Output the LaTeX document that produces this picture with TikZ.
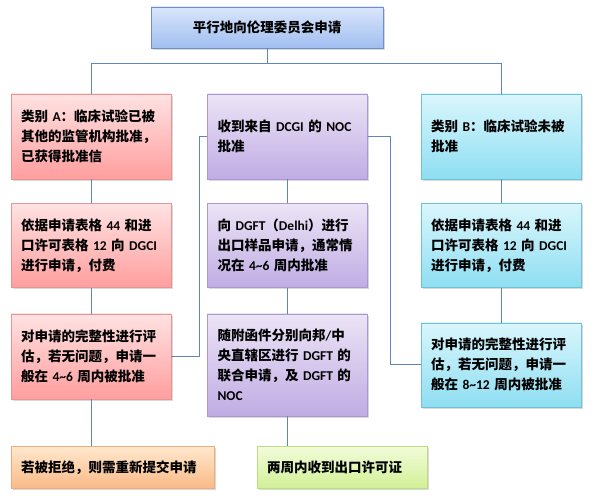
\documentclass[tikz,border=0pt]{standalone}
\usepackage{fontspec}
\setmainfont{Noto Sans CJK SC}
\newfontfamily\enfont{Carlito}
\usetikzlibrary{positioning, shadows}
\newcommand{\en}[1]{{\enfont #1}}
\definecolor{linkblue}{RGB}{95,135,185}
\definecolor{redtop}{RGB}{255,226,226}\definecolor{redbot}{RGB}{255,158,158}\definecolor{redline}{RGB}{226,150,150}
\definecolor{purtop}{RGB}{236,228,246}\definecolor{purbot}{RGB}{192,172,228}\definecolor{purline}{RGB}{172,152,208}
\definecolor{cyatop}{RGB}{218,246,252}\definecolor{cyabot}{RGB}{142,222,242}\definecolor{cyaline}{RGB}{112,192,216}
\definecolor{blutop}{RGB}{218,230,252}\definecolor{blubot}{RGB}{160,190,240}\definecolor{bluline}{RGB}{112,142,200}
\definecolor{orgtop}{RGB}{255,232,205}\definecolor{orgbot}{RGB}{250,186,136}\definecolor{orgline}{RGB}{238,172,122}
\definecolor{grntop}{RGB}{242,252,218}\definecolor{grnbot}{RGB}{210,240,150}\definecolor{grnline}{RGB}{190,220,130}
\tikzset{
box/.style={shape=rectangle, draw, text width=140pt, inner xsep=10pt, inner ysep=0pt, minimum height=85pt, align=left, font=\fontsize{13.5}{20}\selectfont\bfseries, drop shadow={shadow xshift=1.5pt, shadow yshift=-2pt, opacity=0.3}},
redbox/.style={box, top color=redtop, bottom color=redbot, draw=redline},
purbox/.style={box, top color=purtop, bottom color=purbot, draw=purline},
cyabox/.style={box, top color=cyatop, bottom color=cyabot, draw=cyaline},
link/.style={draw=linkblue, line width=1pt}}

\begin{document}
\begin{tikzpicture}[x=1pt, y=-1pt]
\useasboundingbox (0,0) rectangle (594,500);
\node [box, text width=212pt, minimum height=41pt, align=center, top color=blutop, bottom color=blubot, draw=bluline] at (267,27.5) (top) {平行地向伦理委员会申请};
% column A
\node [redbox] at (91,136.5) (A1) {类别 \en{A}：临床试验已被\\其他的监管机构批准，\\已获得批准信};
\node [redbox, minimum height=84pt, below=24pt of A1] (A2) {依据申请表格 \en{44} 和进\\口许可表格 \en{12} 向 \en{DGCI}\\进行申请，付费};
\node [redbox, below=26pt of A2] (A3) {对申请的完整性进行评\\估，若无问题，申请一\\般在 \en{4\textasciitilde6} 周内被批准};
\node [box, text width=183pt, minimum height=42pt, anchor=north west, top color=orgtop, bottom color=orgbot, draw=orgline] at (11,446) (A4) {若被拒绝，则需重新提交申请};
% column B
\node [purbox] at (287.5,136.5) (B1) {收到来自 \en{DCGI} 的 \en{NOC}\\批准};
\node [purbox, minimum height=84pt, below=24pt of B1] (B2) {向 \en{DGFT}（\en{Delhi}）进行\\出口样品申请，通常情\\况在 \en{4\textasciitilde6} 周内批准};
\node [purbox, minimum height=102pt, below=26pt of B2] (B3) {随附函件分别向邦\en{/}中\\央直辖区进行 \en{DGFT} 的\\联合申请，及 \en{DGFT} 的\\\en{NOC}};
\node [box, text width=150pt, minimum height=42pt, anchor=north west, top color=grntop, bottom color=grnbot, draw=grnline] at (257,446) (B4) {两周内收到出口许可证};
% column C
\node [cyabox] at (501,136.5) (C1) {类别 \en{B}：临床试验未被\\批准};
\node [cyabox, minimum height=84pt, below=24pt of C1] (C2) {依据申请表格 \en{44} 和进\\口许可表格 \en{12} 向 \en{DGCI}\\进行申请，付费};
\node [cyabox, minimum height=84pt, below=35pt of C2] (C3) {对申请的完整性进行评\\估，若无问题，申请一\\般在 \en{8\textasciitilde12} 周内被批准};
% connectors
\draw [link] (top.south) -- ++(0,15) -| (A1.north);
\draw [link] (top.south) -- ++(0,15) -| (C1.north);
\foreach \a/\b in {A1/A2, A2/A3, B1/B2, B2/B3, C1/C2, C2/C3}
  \draw [link] (\a) -- (\b);
\draw [link] (A3.south) -- (A3.south |- A4.north);
\draw [link] (B3.south) -- (B3.south |- B4.north);
\draw [link] (A3.east) -- ++(28,0) |- (B1.west);
\draw [link] (B1.east) -- ++(23,0) |- (C3.west);
\end{tikzpicture}
\end{document}
